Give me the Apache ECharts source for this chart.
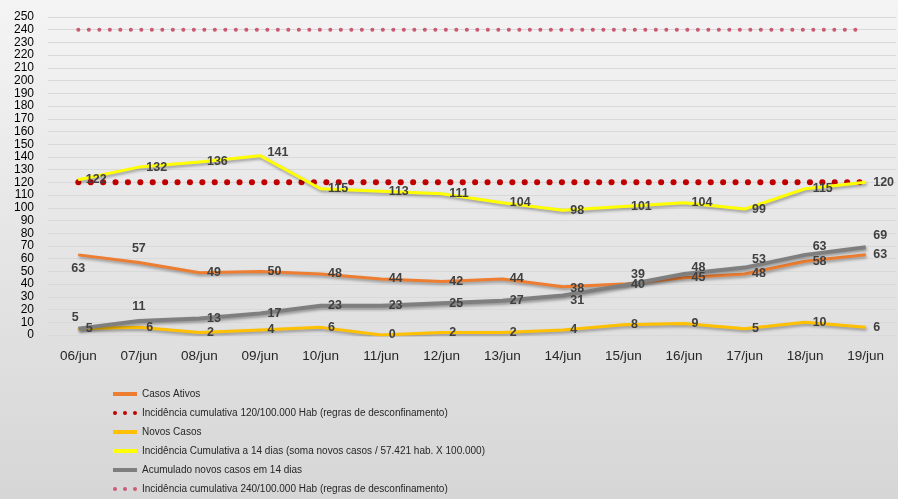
<!DOCTYPE html>
<html>
<head>
<meta charset="utf-8">
<script src="https://cdn.jsdelivr.net/npm/echarts@6/dist/echarts.min.js"></script>
<style>
html,body{margin:0;padding:0;}
#c{width:898px;height:499px;}
</style>
</head>
<body>
<div id="c"></div>
<script>
var categories = ['06/jun','07/jun','08/jun','09/jun','10/jun','11/jun','12/jun','13/jun','14/jun','15/jun','16/jun','17/jun','18/jun','19/jun'];
var casosAtivos = [63,57,49,50,48,44,42,44,38,40,45,48,58,63];
var limite120 = [120,120,120,120,120,120,120,120,120,120,120,120,120,120];
var novosCasos = [5,6,2,4,6,0,2,2,4,8,9,5,10,6];
var incidencia14 = [122,132,136,141,115,113,111,104,98,101,104,99,115,120];
var acumulado14 = [5,11,13,17,23,23,25,27,31,39,48,53,63,69];
var limite240 = [240,240,240,240,240,240,240,240,240,240,240,240,240,240];
var yTicks = [0,10,20,30,40,50,60,70,80,90,100,110,120,130,140,150,160,170,180,190,200,210,220,230,240,250];

var names = [
  'Casos Ativos',
  'Incidência cumulativa 120/100.000 Hab (regras de desconfinamento)',
  'Novos Casos',
  'Incidência Cumulativa a 14 dias (soma novos casos / 57.421 hab. X 100.000)',
  'Acumulado novos casos em 14 dias',
  'Incidência cumulativa 240/100.000 Hab (regras de desconfinamento)'
];

var FONT = "'Liberation Sans',Arial,sans-serif";
var labelBase = {show:true, position:'right', distance:7, color:'#404040', fontSize:12.5, fontWeight:'bold', fontFamily:FONT};
var shadow = {shadowColor:'rgba(0,0,0,0.35)', shadowBlur:3, shadowOffsetY:2, shadowOffsetX:1};

function withLabels(values, overrides){
  return values.map(function(v,i){
    var o = {value:v};
    if (overrides[i]) o.label = overrides[i];
    return o;
  });
}

var dots3 = 'path://M0,2a2,2 0 1,0 4,0a2,2 0 1,0 -4,0ZM10,2a2,2 0 1,0 4,0a2,2 0 1,0 -4,0ZM20,2a2,2 0 1,0 4,0a2,2 0 1,0 -4,0Z';
var bar = 'path://M0,0H24V4H0Z';

function lineSeries(name, data, color, width, z, shifts){
  return {
    name:name, type:'line', data:data, z:z,
    symbol:'circle', symbolSize:1, showSymbol:true,
    itemStyle:{color:color},
    lineStyle:Object.assign({color:color, width:width}, shadow),
    label:labelBase,
    labelLayout:function(p){
      var s = shifts[p.dataIndex];
      return s ? {dx:s[0], dy:s[1], hideOverlap:false} : {hideOverlap:false};
    }
  };
}

var chart = echarts.init(document.getElementById('c'));
chart.setOption({
  animation:false,
  backgroundColor:{type:'linear',x:0,y:0,x2:0,y2:1,colorStops:[{offset:0,color:'#f4f4f4'},{offset:1,color:'#d6d6d6'}]},
  grid:{left:48, right:2, top:17, bottom:164},
  xAxis:{
    type:'category', data:categories, boundaryGap:true,
    axisLine:{show:false}, axisTick:{show:false},
    axisLabel:{color:'#262626', fontSize:13.5, fontFamily:FONT, margin:14}
  },
  yAxis:{
    type:'value', min:yTicks[0], max:yTicks[yTicks.length-1], interval:10,
    axisLine:{show:false}, axisTick:{show:false},
    axisLabel:{color:'#000', fontSize:12, lineHeight:11, padding:0, fontFamily:FONT, margin:14, showMinLabel:true, showMaxLabel:true, hideOverlap:false},
    splitLine:{lineStyle:{color:'#d9d9d9', width:1}}
  },
  legend:{
    orient:'vertical', left:113, top:389, height:110, padding:0, itemGap:9, itemWidth:24, itemHeight:4,
    textStyle:{color:'#262626', fontSize:10, fontFamily:FONT},
    data:[
      {name:names[0], icon:bar},
      {name:names[1], icon:dots3},
      {name:names[2], icon:bar},
      {name:names[3], icon:bar},
      {name:names[4], icon:bar},
      {name:names[5], icon:dots3}
    ]
  },
  series:[
    {
      name:names[5], type:'line', data:limite240, symbol:'none', z:1,
      itemStyle:{color:'#CC5A72'},
      lineStyle:{color:'#CC5A72', width:4, type:[0.1,10.4], cap:'round'}
    },
    {
      name:names[1], type:'line', data:limite120, symbol:'none', z:2,
      itemStyle:{color:'#C00000'},
      lineStyle:{color:'#C00000', width:6, type:[0.1,12.3], cap:'round'}
    },
    lineSeries(names[0], withLabels(casosAtivos,{0:{position:'bottom'},1:{position:'top'}}), '#ED7D31', 3, 3, {8:[0,2]}),
    lineSeries(names[2], withLabels(novosCasos,{}), '#FFC000', 3, 3, {}),
    lineSeries(names[3], withLabels(incidencia14,{}), '#FFFF00', 3, 4, {3:[0,-3]}),
    lineSeries(names[4], withLabels(acumulado14,{0:{position:'top'},1:{position:'top'}}), '#7F7F7F', 4, 3,
      {0:[-3,3], 8:[0,5], 9:[0,-11], 10:[0,-6], 11:[0,-8], 12:[0,-8], 13:[0,-12]})
  ]
});
</script>
</body>
</html>
